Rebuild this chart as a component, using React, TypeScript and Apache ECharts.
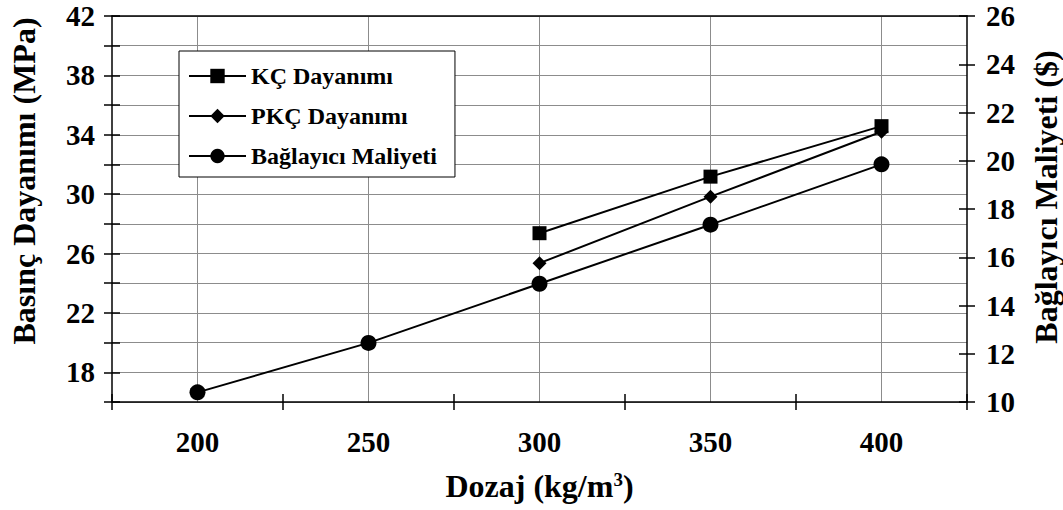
import React, { useEffect, useRef } from "react";
import * as echarts from "echarts";

const categories = ["200", "250", "300", "350", "400"];
const kcStrength = [null, null, 27.37, 31.18, 34.58];
const pkcStrength = [null, null, 25.35, 29.83, 34.2];
const binderCost = [10.4, 12.45, 14.9, 17.35, 19.85];

const seriesNames = ["KÇ Dayanımı", "PKÇ Dayanımı", "Bağlayıcı Maliyeti"];
const leftAxisTitle = "Basınç Dayanımı (MPa)";
const rightAxisTitle = "Bağlayıcı Maliyeti ($)";

const FONT = "Liberation Serif";

export default function App() {
  const ref = useRef<HTMLDivElement>(null);
  useEffect(() => {
    if (!ref.current) return;
    const chart = echarts.init(ref.current, undefined, { renderer: "svg" });
    const black = "#000";
    const grid = "#8c8c8c";
    const tickFont = { color: black, fontFamily: FONT, fontWeight: "bold" as const, fontSize: 29 };
    const labelStyle = { ...tickFont, rich: { t: { ...tickFont } } };
    const nameStyle = { color: black, fontFamily: FONT, fontWeight: "bold" as const, fontSize: 32 };
    chart.setOption({
      animation: false,
      backgroundColor: "#fff",
      textStyle: { fontFamily: FONT },
      grid: { left: 112, right: 96, top: 16, bottom: 108, containLabel: false },
      graphic: [
        {
          type: "text",
          x: 24,
          y: 181,
          rotation: Math.PI / 2,
          style: {
            text: leftAxisTitle,
            fill: black,
            font: `bold 32px ${FONT}`,
            align: "center",
            verticalAlign: "middle",
          },
        },
        {
          type: "text",
          x: 1046,
          y: 197,
          rotation: Math.PI / 2,
          style: {
            text: rightAxisTitle,
            fill: black,
            font: `bold 32px ${FONT}`,
            align: "center",
            verticalAlign: "middle",
          },
        },
      ],
      legend: {
        orient: "vertical",
        left: 179,
        top: 51,
        data: seriesNames,
        itemWidth: 57,
        itemHeight: 18,
        itemGap: 16,
        padding: [13, 18, 9, 9],
        backgroundColor: "#fff",
        borderColor: black,
        borderWidth: 1,
        textStyle: { color: black, fontFamily: FONT, fontWeight: "bold", fontSize: 24 },
      },
      xAxis: [
        {
          type: "category",
          data: categories,
          position: "bottom",
          boundaryGap: true,
          name: "Dozaj (kg/m{sup|3})",
          nameLocation: "middle",
          nameGap: 68,
          nameTextStyle: {
            ...nameStyle,
            rich: { sup: { ...nameStyle, fontSize: 19, verticalAlign: "top", padding: [0, 0, 12, 0] } },
          },
          axisLine: { show: true, lineStyle: { color: black, width: 1.5 } },
          axisTick: { show: true, length: 8, lineStyle: { color: black, width: 1.5 } },
          axisLabel: { ...labelStyle, margin: 25, formatter: (v: string) => `{t|${v}}` },
          splitLine: { show: true, alignWithLabel: true, lineStyle: { color: grid, width: 1 } },
        },
        {
          type: "category",
          data: categories,
          position: "bottom",
          boundaryGap: true,
          axisLine: { show: false },
          axisTick: { show: true, inside: true, length: 8, lineStyle: { color: black, width: 1.5 } },
          axisLabel: { show: false },
          splitLine: { show: false },
        },
        {
          type: "category",
          data: categories,
          position: "top",
          boundaryGap: true,
          axisLine: { show: true, lineStyle: { color: black, width: 1.5 } },
          axisTick: { show: false },
          axisLabel: { show: false },
          splitLine: { show: false },
        },
      ],
      yAxis: [
        {
          type: "value",
          position: "left",
          min: 16,
          max: 42,
          interval: 2,
          axisLine: { show: true, lineStyle: { color: black, width: 1.5 } },
          axisTick: { show: true, length: 8, lineStyle: { color: black, width: 1.5 } },
          axisLabel: {
            ...labelStyle,
            margin: 17,
            formatter: (v: number) => ((v - 18) % 4 === 0 ? `{t|${v}}` : ""),
          },
          splitLine: { show: true, lineStyle: { color: grid, width: 1 } },
        },
        {
          type: "value",
          position: "right",
          min: 10,
          max: 26,
          interval: 2,
          axisLine: { show: true, lineStyle: { color: black, width: 1.5 } },
          axisTick: { show: true, length: 8, lineStyle: { color: black, width: 1.5 } },
          axisLabel: { ...labelStyle, margin: 19, formatter: (v: number) => `{t|${v}}` },
          splitLine: { show: false },
        },
        {
          type: "value",
          position: "left",
          min: 16,
          max: 42,
          interval: 2,
          axisLine: { show: false },
          axisTick: { show: true, inside: true, length: 8, lineStyle: { color: black, width: 1.5 } },
          axisLabel: { show: false },
          splitLine: { show: false },
        },
        {
          type: "value",
          position: "right",
          min: 10,
          max: 26,
          interval: 2,
          axisLine: { show: false },
          axisTick: { show: true, inside: true, length: 8, lineStyle: { color: black, width: 1.5 } },
          axisLabel: { show: false },
          splitLine: { show: false },
        },
      ],
      series: [
        {
          name: seriesNames[0],
          type: "line",
          xAxisIndex: 0,
          yAxisIndex: 0,
          data: kcStrength,
          symbol: "rect",
          symbolSize: 14,
          lineStyle: { color: black, width: 2 },
          itemStyle: { color: black },
        },
        {
          name: seriesNames[1],
          type: "line",
          xAxisIndex: 0,
          yAxisIndex: 0,
          data: pkcStrength,
          symbol: "diamond",
          symbolSize: 14,
          lineStyle: { color: black, width: 2 },
          itemStyle: { color: black },
        },
        {
          name: seriesNames[2],
          type: "line",
          xAxisIndex: 0,
          yAxisIndex: 1,
          data: binderCost,
          symbol: "circle",
          symbolSize: 16,
          lineStyle: { color: black, width: 2 },
          itemStyle: { color: black },
        },
      ],
    });
    return () => chart.dispose();
  }, []);
  return (
    <div
      ref={ref}
      style={{ position: "absolute", left: 0, top: 0, width: 1063, height: 510 }}
    />
  );
}
